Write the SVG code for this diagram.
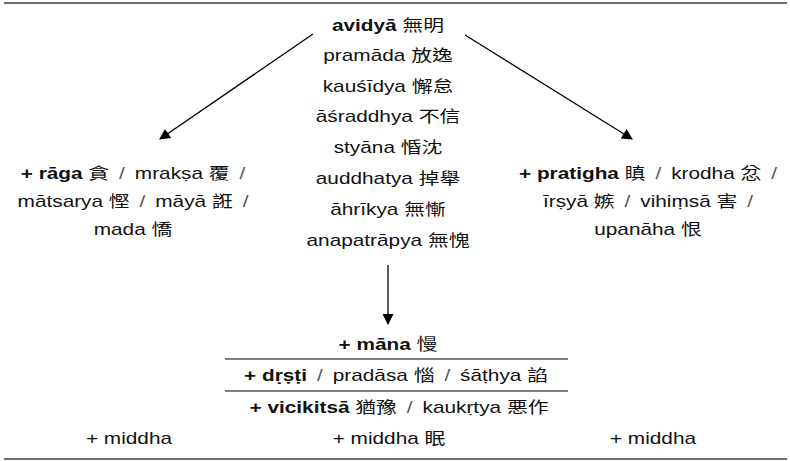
<svg xmlns="http://www.w3.org/2000/svg" width="790" height="461" viewBox="0 0 790 461">
<style>
text{font-family:"Liberation Sans","Noto Sans CJK TC",sans-serif;font-size:16px;fill:#111;text-anchor:middle}
.b{font-weight:bold}
.s{fill:#555}
.rule{stroke:#6e6e6e;stroke-width:2;fill:none}
.thin{stroke:#555;stroke-width:1.3;fill:none}
.arr{stroke:#000;stroke-width:1.3;fill:none;marker-end:url(#ah)}
</style>
<defs>
<marker id="ah" viewBox="0 0 10 10" refX="9" refY="5" markerWidth="11" markerHeight="11" markerUnits="userSpaceOnUse" orient="auto">
<path d="M0,0 L10,5 L0,10 z" fill="#000"/>
</marker>
</defs>
<line class="rule" x1="4" y1="3" x2="787" y2="3"/>
<line class="rule" x1="4" y1="459" x2="787" y2="459"/>
<g id="connectors">
<line class="arr" x1="313" y1="34" x2="160" y2="139"/>
<line class="arr" x1="465" y1="35" x2="632" y2="139"/>
<line class="arr" x1="388" y1="265" x2="388" y2="324"/>
<line class="thin" x1="225" y1="359" x2="568" y2="359"/>
<line class="thin" x1="225" y1="391" x2="568" y2="391"/>
</g>
<g id="center" transform="translate(388 0) scale(1.3 1)">
<text x="0" y="31"><tspan class="b">avidyā</tspan> 無明</text>
<text x="0" y="61">pramāda 放逸</text>
<text x="0" y="92">kauśīdya 懈怠</text>
<text x="0" y="122">āśraddhya 不信</text>
<text x="0" y="153">styāna 惛沈</text>
<text x="0" y="184">auddhatya 掉舉</text>
<text x="0" y="215">āhrīkya 無慚</text>
<text x="0" y="246">anapatrāpya 無愧</text>
</g>
<g id="left" transform="translate(133 0) scale(1.3 1)">
<text x="0" y="179"><tspan class="b">+ rāga</tspan> 貪 &#x2009;<tspan class="s">/</tspan>&#x2009; mrakṣa 覆 &#x2009;<tspan class="s">/</tspan></text>
<text x="0" y="207">mātsarya 慳 &#x2009;<tspan class="s">/</tspan>&#x2009; māyā 誑 &#x2009;<tspan class="s">/</tspan></text>
<text x="0" y="235">mada 憍</text>
</g>
<g id="right" transform="translate(648 0) scale(1.3 1)">
<text x="0" y="179"><tspan class="b">+ pratigha</tspan> 瞋 &#x2009;<tspan class="s">/</tspan>&#x2009; krodha 忿 &#x2009;<tspan class="s">/</tspan></text>
<text x="0" y="207">īrṣyā 嫉 &#x2009;<tspan class="s">/</tspan>&#x2009; vihiṃsā 害 &#x2009;<tspan class="s">/</tspan></text>
<text x="0" y="235">upanāha 恨</text>
</g>
<g id="mana" transform="translate(388 0) scale(1.3 1)">
<text x="0" y="350"><tspan class="b">+ māna</tspan> 慢</text>
</g>
<g id="drsti" transform="translate(396 0) scale(1.3 1)">
<text x="0" y="381"><tspan class="b">+ dṛṣṭi</tspan> &#x2009;<tspan class="s">/</tspan>&#x2009; pradāsa 惱 &#x2009;<tspan class="s">/</tspan>&#x2009; śāṭhya 諂</text>
</g>
<g id="vicikitsa" transform="translate(399 0) scale(1.3 1)">
<text x="0" y="413"><tspan class="b">+ vicikitsā</tspan> 猶豫 &#x2009;<tspan class="s">/</tspan>&#x2009; kaukṛtya 悪作</text>
</g>
<g id="middha-left" transform="translate(129 0) scale(1.3 1)">
<text x="0" y="444">+ middha</text>
</g>
<g id="middha-center" transform="translate(389 0) scale(1.3 1)">
<text x="0" y="444">+ middha 眠</text>
</g>
<g id="middha-right" transform="translate(653 0) scale(1.3 1)">
<text x="0" y="444">+ middha</text>
</g>
</svg>
